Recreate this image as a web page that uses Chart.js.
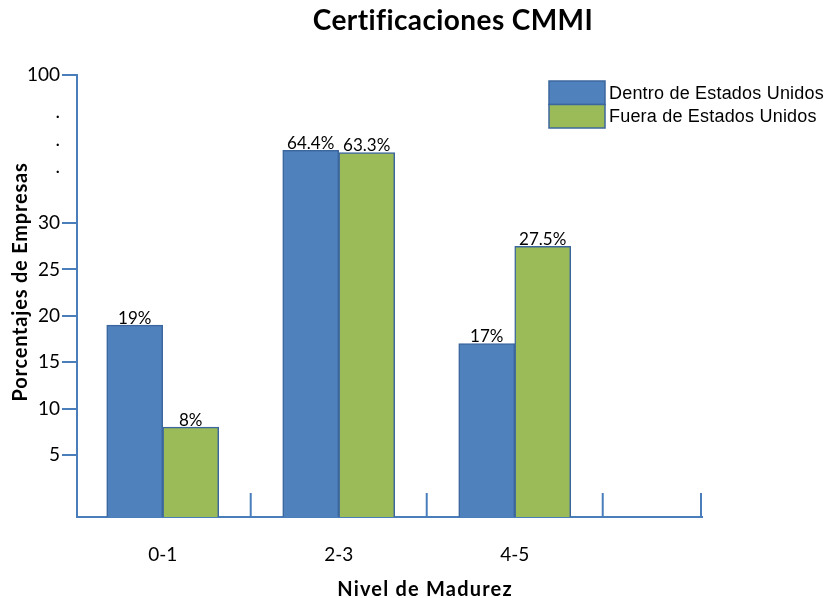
<!DOCTYPE html>
<html lang="es">
<head>
<meta charset="utf-8">
<title>Certificaciones CMMI</title>
<script src="https://cdn.jsdelivr.net/npm/chart.js@4.4.1/dist/chart.umd.min.js"></script>
<style>
  html, body { margin: 0; padding: 0; background: #fff; }
  canvas { display: block; }
</style>
</head>
<body>
<canvas id="chart" width="825" height="598"></canvas>
<script>
// Niveles de madurez CMMI
const categories = ['0-1', '2-3', '4-5'];
// Porcentaje de empresas por nivel
const dentroEEUU = [19, 64.4, 17];
const fueraEEUU = [8, 63.3, 27.5];
const seriesNames = ['Dentro de Estados Unidos', 'Fuera de Estados Unidos'];
// Marcas del eje vertical: tramo normal 0-30, tramo comprimido 30-100
const yTickValues = [5, 10, 15, 20, 25, 30, 56.5, 69.5, 82.5, 100];
const yTickLabels = ['5', '10', '15', '20', '25', '30', '.', '.', '.', '100'];

const Y_FLOOR = -1.7;   // the axis line sits a little below zero
const Y_BREAK = 30;     // where the axis switches to the compressed band
const Y_MAX = 100;
const UPPER_SHARE = 0.335; // fraction of the axis height for 30-100
const X_MIN = -0.487;
const X_MAX = 3.064;

const AXIS_BLUE = '#4a7ebb';
const BAR_EDGE = '#3c679e';
const CALIBRI_LIKE = 'Lato, "Open Sans", sans-serif';

// Linear scale with a break: 0-30 at full resolution, 30-100 squeezed on top
class BrokenLinearScale extends Chart.LinearScale {
  breakPixel() {
    return this.top + (this.bottom - this.top) * UPPER_SHARE;
  }
  getPixelForValue(value) {
    const brk = this.breakPixel();
    if (value <= Y_BREAK) {
      return this.bottom - (value - this.min) / (Y_BREAK - this.min) * (this.bottom - brk);
    }
    return brk - (value - Y_BREAK) / (this.max - Y_BREAK) * (brk - this.top);
  }
  getValueForPixel(pixel) {
    const brk = this.breakPixel();
    if (pixel >= brk) {
      return this.min + (this.bottom - pixel) / (this.bottom - brk) * (Y_BREAK - this.min);
    }
    return Y_BREAK + (brk - pixel) / (brk - this.top) * (this.max - Y_BREAK);
  }
}
BrokenLinearScale.id = 'brokenLinear';
BrokenLinearScale.defaults = {};
Chart.register(BrokenLinearScale);

// Value labels above each bar
const barValueLabels = {
  id: 'barValueLabels',
  afterDatasetsDraw(chart) {
    const ctx = chart.ctx;
    ctx.save();
    ctx.font = '17px ' + CALIBRI_LIKE;
    ctx.fillStyle = '#000';
    ctx.textAlign = 'center';
    ctx.textBaseline = 'alphabetic';
    chart.data.datasets.forEach((ds, di) => {
      chart.getDatasetMeta(di).data.forEach((bar, i) => {
        ctx.fillText(ds.data[i].y + '%', bar.x, bar.y - 1.5);
      });
    });
    ctx.restore();
  }
};

// Short upright marks on the horizontal axis between the groups
const groupSeparators = {
  id: 'groupSeparators',
  afterDatasetsDraw(chart) {
    const { ctx, chartArea, scales } = chart;
    const positions = categories.map((_, i) => i + 0.5).concat([X_MAX]);
    ctx.save();
    ctx.strokeStyle = AXIS_BLUE;
    ctx.lineWidth = 2;
    positions.forEach((v) => {
      const px = Math.min(scales.x.getPixelForValue(v), chartArea.right - 1);
      ctx.beginPath();
      ctx.moveTo(px, chartArea.bottom);
      ctx.lineTo(px, chartArea.bottom - 24);
      ctx.stroke();
    });
    ctx.restore();
  }
};

// Title, axis titles and legend
const chartText = {
  id: 'chartText',
  afterDraw(chart) {
    const ctx = chart.ctx;
    ctx.save();
    ctx.fillStyle = '#000';
    ctx.textBaseline = 'alphabetic';

    ctx.textAlign = 'center';
    ctx.font = 'bold 28px ' + CALIBRI_LIKE;
    ctx.letterSpacing = '0.4px';
    ctx.fillText('Certificaciones CMMI', 453, 30);

    ctx.font = 'bold 20px ' + CALIBRI_LIKE;
    ctx.letterSpacing = '1.2px';
    ctx.fillText('Nivel de Madurez', 425, 596);

    ctx.letterSpacing = '0.8px';
    ctx.save();
    ctx.translate(27, 282);
    ctx.rotate(-Math.PI / 2);
    ctx.fillText('Porcentajes de Empresas', 0, 0);
    ctx.restore();

    // legend
    const boxX = 549, boxW = 56, boxH = 23.5;
    let y = 81;
    ctx.textAlign = 'left';
    ctx.textBaseline = 'middle';
    ctx.letterSpacing = '0.2px';
    ctx.font = '18px "Liberation Sans", Arial, sans-serif';
    chart.data.datasets.forEach((ds) => {
      ctx.fillStyle = ds.backgroundColor;
      ctx.fillRect(boxX, y, boxW, boxH);
      ctx.strokeStyle = ds.borderColor;
      ctx.lineWidth = 1.5;
      ctx.strokeRect(boxX, y, boxW, boxH);
      ctx.fillStyle = '#000';
      ctx.fillText(ds.label, 609, y + boxH / 2 + 1);
      y += boxH;
    });
    ctx.restore();
  }
};

const toPoints = (values) => values.map((v, i) => ({ x: i, y: v }));

new Chart(document.getElementById('chart'), {
  type: 'bar',
  data: {
    datasets: [
      {
        label: seriesNames[0],
        data: toPoints(dentroEEUU),
        backgroundColor: '#4f81bd',
        borderColor: BAR_EDGE,
        borderWidth: 1.5,
        base: Y_FLOOR
      },
      {
        label: seriesNames[1],
        data: toPoints(fueraEEUU),
        backgroundColor: '#9bbb59',
        borderColor: BAR_EDGE,
        borderWidth: 1.5,
        base: Y_FLOOR
      }
    ]
  },
  options: {
    responsive: false,
    animation: false,
    devicePixelRatio: 1,
    barThickness: 56,
    layout: { padding: { top: 75, right: 123, bottom: 0, left: 0 } },
    plugins: {
      legend: { display: false },
      tooltip: { enabled: false },
      title: { display: false }
    },
    scales: {
      x: {
        type: 'linear',
        offset: false,
        min: X_MIN,
        max: X_MAX,
        afterBuildTicks: (scale) => {
          scale.ticks = categories.map((_, i) => ({ value: i }));
        },
        afterFit: (scale) => { scale.height = 81; },
        grid: { display: false },
        border: { display: true, color: AXIS_BLUE, width: 2 },
        ticks: {
          autoSkip: false,
          maxRotation: 0,
          padding: 18,
          color: '#000',
          font: { family: CALIBRI_LIKE, size: 19 },
          callback: (v) => categories[v] ?? ''
        }
      },
      y: {
        type: 'brokenLinear',
        min: Y_FLOOR,
        max: Y_MAX,
        afterBuildTicks: (scale) => {
          scale.ticks = yTickValues.map((v) => ({ value: v }));
        },
        afterFit: (scale) => { scale.width = 77; },
        grid: {
          drawOnChartArea: false,
          drawTicks: true,
          tickLength: 15,
          lineWidth: 2,
          color: (c) => (yTickLabels[c.index] === '.' ? 'rgba(0,0,0,0)' : AXIS_BLUE)
        },
        border: { display: true, color: AXIS_BLUE, width: 2 },
        ticks: {
          autoSkip: false,
          padding: 2,
          color: '#000',
          font: { family: CALIBRI_LIKE, size: 19 },
          callback: (v, i) => yTickLabels[i]
        }
      }
    }
  },
  plugins: [barValueLabels, groupSeparators, chartText]
});
</script>
</body>
</html>
